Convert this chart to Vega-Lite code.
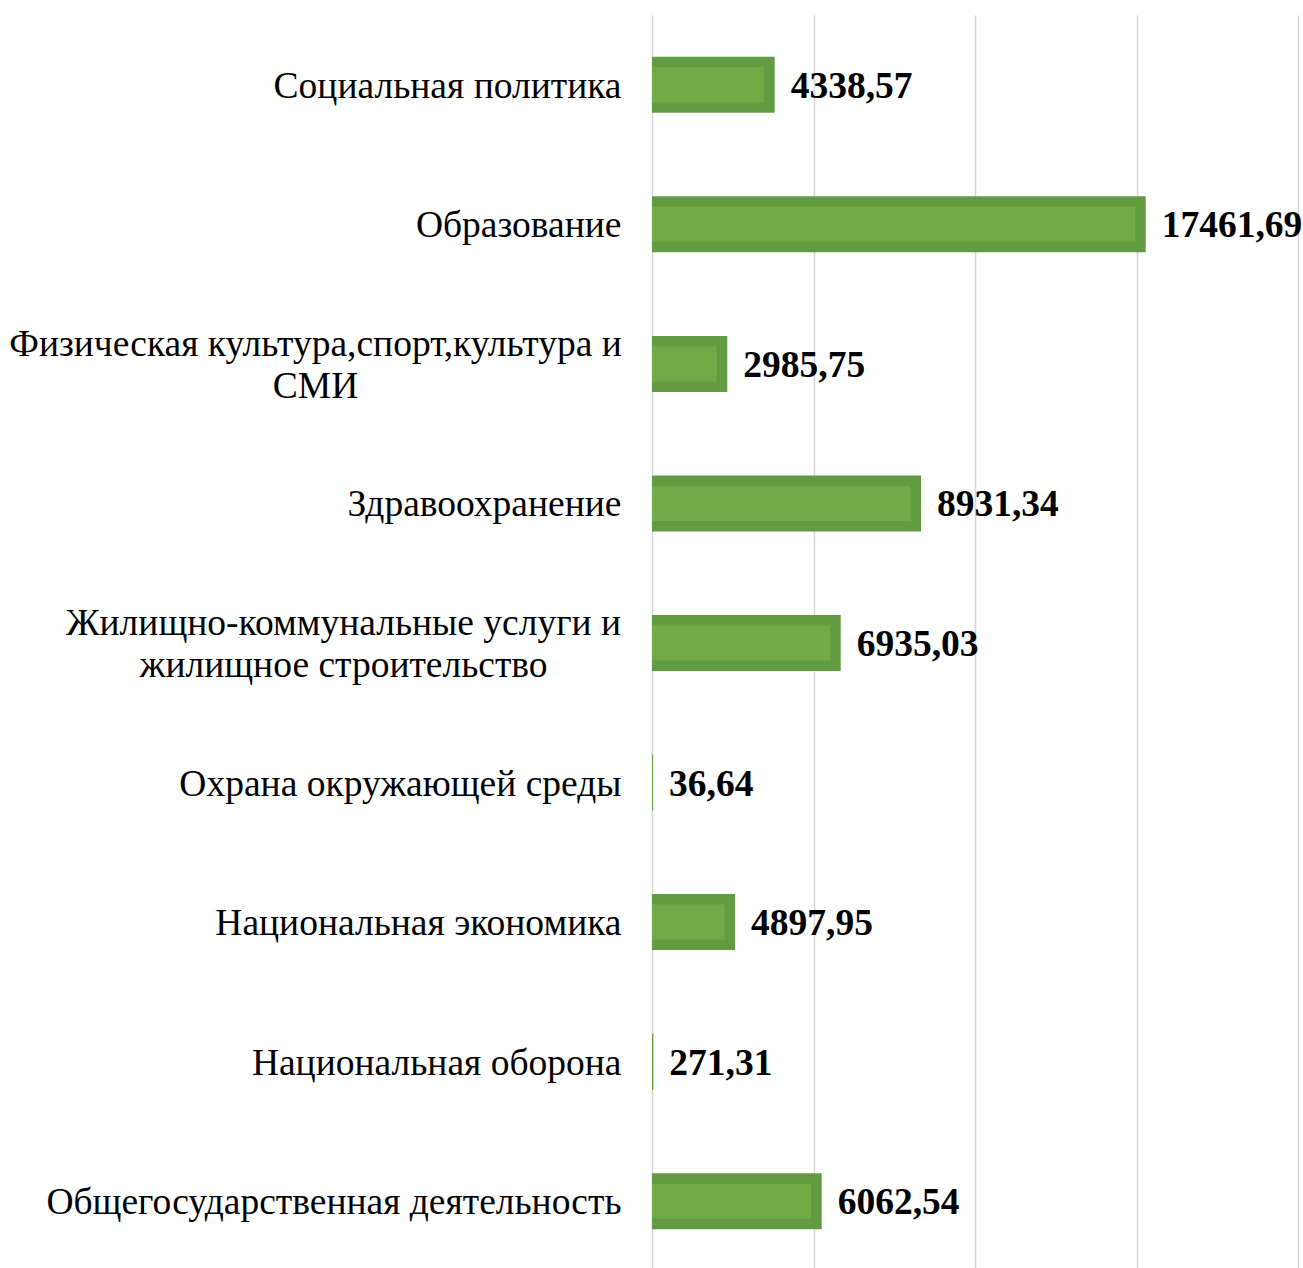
{
  "$schema": "https://vega.github.io/schema/vega-lite/v6.json",
  "autosize": {"type": "none"},
  "padding": {"left": 652, "top": 15, "right": 5, "bottom": 0},
  "width": 646,
  "height": 1256,
  "background": "white",
  "config": {"view": {"stroke": null}},
  "data": {
    "values": [
      {"category": "Социальная политика", "value": 4338.57, "label": "4338,57"},
      {"category": "Образование", "value": 17461.69, "label": "17461,69"},
      {"category": "Физическая культура,спорт,культура и СМИ", "value": 2663, "label": "2985,75"},
      {"category": "Здравоохранение", "value": 9514, "label": "8931,34"},
      {"category": "Жилищно-коммунальные услуги и жилищное строительство", "value": 6674, "label": "6935,03"},
      {"category": "Охрана окружающей среды", "value": 36.64, "label": "36,64"},
      {"category": "Национальная экономика", "value": 2936, "label": "4897,95"},
      {"category": "Национальная оборона", "value": 45, "label": "271,31"},
      {"category": "Общегосударственная деятельность", "value": 6002, "label": "6062,54"}
    ]
  },
  "encoding": {
    "y": {
      "field": "category",
      "type": "nominal",
      "sort": null,
      "title": null,
      "scale": {"paddingInner": 0, "paddingOuter": 0},
      "axis": {
        "domain": false,
        "ticks": false,
        "labelFont": "Liberation Serif",
        "labelFontSize": 37.5,
        "labelColor": "#000000",
        "labelLimit": 700,
        "labelLineHeight": 42,
        "labelOffset": {"condition": {"test": "indexof(datum.value, ' и ') > 0", "value": -19}, "value": 2},
        "labelAlign": {"condition": {"test": "indexof(datum.value, ' и ') > 0", "value": "center"}, "value": "right"},
        "labelPadding": {"condition": [
          {"test": "indexof(datum.value, 'Физическая') == 0", "value": 337},
          {"test": "indexof(datum.value, 'Жилищно') == 0", "value": 309}
        ], "value": 31},
        "labelExpr": "indexof(datum.value, ' и ') > 0 ? [substring(datum.value, 0, indexof(datum.value, ' и ') + 2), substring(datum.value, indexof(datum.value, ' и ') + 3)] : datum.value"
      }
    },
    "x": {
      "field": "value",
      "type": "quantitative",
      "title": null,
      "stack": null,
      "scale": {"domain": [0, 22848], "nice": false, "zero": true},
      "axis": {
        "values": [0, 5712, 11424, 17136, 22848],
        "labels": false,
        "ticks": false,
        "domain": false,
        "grid": true,
        "gridColor": "#d6d6d6",
        "gridWidth": 1.5
      }
    }
  },
  "layer": [
    {
      "mark": {"type": "bar", "color": "#639b42", "size": 56}
    },
    {
      "transform": [{"filter": "datum.value > 1000"}],
      "mark": {"type": "bar", "color": "#70ab46", "size": 35, "xOffset": -10.5, "x2Offset": 10.5}
    },
    {
      "mark": {
        "type": "text",
        "align": "left",
        "baseline": "middle",
        "dx": 16,
        "dy": 2,
        "font": "Liberation Serif",
        "fontSize": 37.5,
        "fontWeight": "bold",
        "color": "#000000"
      },
      "encoding": {"text": {"field": "label", "type": "nominal"}}
    }
  ]
}
